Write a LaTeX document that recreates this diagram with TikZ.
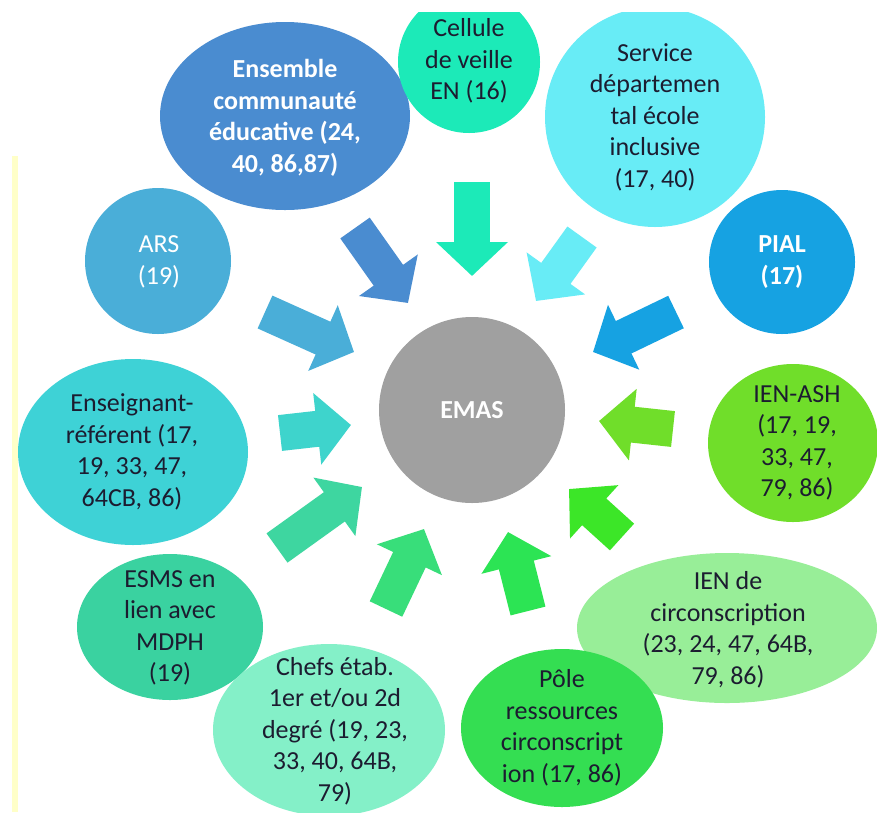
\documentclass[tikz,border=0pt]{standalone}
\usepackage{fontspec}
\setmainfont{Carlito}
\usetikzlibrary{shapes.geometric,arrows.meta}
\definecolor{ink}{RGB}{28,28,48}
\definecolor{cEns}{RGB}{74,140,208}
\definecolor{cCel}{RGB}{28,234,184}
\definecolor{cSer}{RGB}{104,236,246}
\definecolor{cPia}{RGB}{22,162,226}
\definecolor{cArs}{RGB}{74,174,216}
\definecolor{cEng}{RGB}{62,210,214}
\definecolor{cAsh}{RGB}{112,222,42}
\definecolor{cEsm}{RGB}{58,210,160}
\definecolor{cChe}{RGB}{132,240,200}
\definecolor{cPol}{RGB}{52,222,82}
\definecolor{cCir}{RGB}{152,238,152}
\definecolor{cEma}{RGB}{160,160,160}
\definecolor{aCir}{RGB}{60,230,40}
\definecolor{aPol}{RGB}{44,228,84}
\definecolor{aChe}{RGB}{56,222,122}
\definecolor{aEsm}{RGB}{62,214,160}
\definecolor{aEng}{RGB}{62,212,204}
\definecolor{pale}{RGB}{255,255,200}
\begin{document}
\begin{tikzpicture}[x=1pt,y=-1pt,
  blob/.style={ellipse, inner sep=0pt, draw=none},
  lbl/.style={align=center, font=\fontsize{26}{31.5}\selectfont, text=ink, inner sep=0pt},
  wlbl/.style={lbl, text=white, font=\fontsize{26}{31.5}\selectfont\bfseries},
  wlblr/.style={lbl, text=white},
  barrow/.style={line width=36pt, -{Triangle[length=34pt,width=70pt]}}]
\useasboundingbox (0,0) rectangle (877,812);
\fill[white] (0,0) rectangle (877,812);
\fill[pale] (12,156) rectangle (18,812);
\begin{scope}
\clip (0,12) rectangle (877,812);
% blobs
\node[blob, fill=cEns, minimum width=250pt, minimum height=188pt] (ens) at (285,116) {};
\node[blob, fill=cCel, minimum width=142pt, minimum height=142pt] (cel) at (469,62) {};
\node[blob, fill=cSer, minimum width=220pt, minimum height=220pt] (ser) at (655,117) {};
\node[blob, fill=cPia, minimum width=146pt, minimum height=144pt] (pia) at (782,262) {};
\node[blob, fill=cArs, minimum width=146pt, minimum height=146pt] (ars) at (158,261) {};
\node[blob, fill=cEng, minimum width=230pt, minimum height=186pt] (eng) at (133,452) {};
\node[blob, fill=cEma, minimum width=186pt, minimum height=186pt] (ema) at (472,410) {};
\node[blob, fill=cAsh, minimum width=170pt, minimum height=158pt] (ash) at (793,443) {};
\node[blob, fill=cEsm, minimum width=186pt, minimum height=146pt] (esm) at (170,627) {};
\node[blob, fill=cChe, minimum width=232pt, minimum height=172pt] (che) at (329,730) {};
\node[blob, fill=cCir, minimum width=300pt, minimum height=150pt] (cir) at (727,628) {};
\node[blob, fill=cPol, minimum width=202pt, minimum height=158pt] (pol) at (562,728) {};
\end{scope}
% labels
\node[wlbl] (tEns) at (285,118) {Ensemble\\communauté\\éducative (24,\\40, 86,87)};
\node[lbl] (tCel) at (469,61) {Cellule\\de veille\\EN (16)};
\node[lbl] (tSer) at (655,117) {Service\\départemen\\tal école\\inclusive\\(17, 40)};
\node[wlbl] (tPia) at (782,262) {PIAL\\(17)};
\node[wlblr] (tArs) at (159,262) {ARS\\(19)};
\node[lbl] (tEng) at (132,452) {Enseignant-\\référent (17,\\19, 33, 47,\\64CB, 86)};
\node[wlbl] (tEma) at (472,410) {EMAS};
\node[lbl] (tAsh) at (797,443) {IEN-ASH\\(17, 19,\\33, 47,\\79, 86)};
\node[lbl] (tEsm) at (170,628) {ESMS en\\lien avec\\MDPH\\(19)};
\node[lbl] (tChe) at (335,731) {Chefs étab.\\1er et/ou 2d\\degré (19, 23,\\33, 40, 64B,\\79)};
\node[lbl] (tCir) at (728,630) {IEN de\\circonscription\\(23, 24, 47, 64B,\\79, 86)};
\node[lbl] (tPol) at (562,728) {Pôle\\ressources\\circonscript\\ion (17, 86)};
% arrow end points
\coordinate (ensS) at (355,228);  \coordinate (ensE) at (408,303);
\coordinate (celS) at (472,182);  \coordinate (celE) at (472,276);
\coordinate (serS) at (582,237);  \coordinate (serE) at (536,301);
\coordinate (piaS) at (676,312);  \coordinate (piaE) at (593,352);
\coordinate (ashS) at (673,429);  \coordinate (ashE) at (599,421);
\coordinate (cirS) at (622,537);  \coordinate (cirE) at (569,489);
\coordinate (polS) at (528,611);  \coordinate (polE) at (508,532);
\coordinate (cheS) at (386,609);  \coordinate (cheE) at (424,529);
\coordinate (esmS) at (277,548);  \coordinate (esmE) at (362,487);
\coordinate (engS) at (280,433);  \coordinate (engE) at (351,425);
\coordinate (arsS) at (265,312);  \coordinate (arsE) at (354,352);
\draw[barrow, cEns] (ensS) -- (ensE);
\draw[barrow, cCel] (celS) -- (celE);
\draw[barrow, cSer] (serS) -- (serE);
\draw[barrow, cPia] (piaS) -- (piaE);
\draw[barrow, cAsh] (ashS) -- (ashE);
\draw[barrow, aCir] (cirS) -- (cirE);
\draw[barrow, aPol] (polS) -- (polE);
\draw[barrow, aChe] (cheS) -- (cheE);
\draw[barrow, aEsm] (esmS) -- (esmE);
\draw[barrow, aEng] (engS) -- (engE);
\draw[barrow, cArs] (arsS) -- (arsE);
\end{tikzpicture}
\end{document}
